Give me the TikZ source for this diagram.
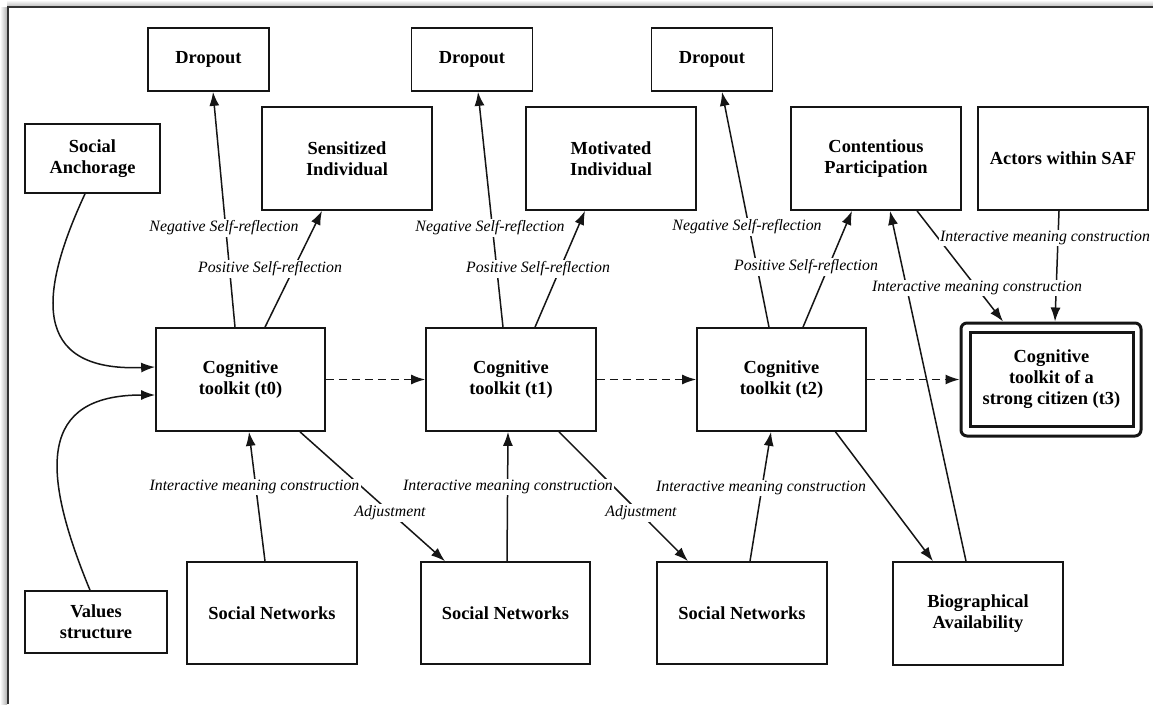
\documentclass[tikz,border=0pt]{standalone}
\usepackage{fontspec}
\setmainfont{Liberation Serif}
\usetikzlibrary{arrows.meta,calc}
\definecolor{ink}{HTML}{151515}
\begin{document}
\begin{tikzpicture}[x=1pt,y=-1pt,
  box/.style={draw=ink, line width=1.7pt, fill=white, align=center,
    font=\bfseries\fontsize{18.4}{21}\selectfont, inner sep=2pt},
  lbl/.style={fill=white, inner sep=1.5pt, font=\itshape\fontsize{15.8}{18}\selectfont},
  link/.style={draw=ink, line width=1.5pt, -{Latex[length=14pt,width=10pt]}},
]
% canvas and page frame with its soft shadow
\fill[white] (0,0) rectangle (1153,704);
\useasboundingbox (0,0) rectangle (1153,704);
\shade[left color=white, right color=black!30] (0,7) rectangle (7,704);
\shade[top color=white, bottom color=black!24] (7,0) rectangle (1153,6);
\draw[black!80, line width=1.8pt] (8,704) -- (8,7) -- (1153,7);

% boxes
\node[box, minimum width=121pt, minimum height=63pt] (drop1) at (208.5,59.5) {Dropout};
\node[box, minimum width=121pt, minimum height=63pt] (drop2) at (472,59.5) {Dropout};
\node[box, minimum width=121pt, minimum height=63pt] (drop3) at (712,59.5) {Dropout};
\node[box, minimum width=135pt, minimum height=69pt] (anch) at (92.5,158.5) {Social\\Anchorage};
\node[box, minimum width=170pt, minimum height=103pt] (sens) at (347,158.5) {Sensitized\\Individual};
\node[box, minimum width=170pt, minimum height=103pt] (motiv) at (611,158.5) {Motivated\\Individual};
\node[box, minimum width=170pt, minimum height=103pt] (cont) at (876,158.5) {Contentious\\Participation};
\node[box, minimum width=170pt, minimum height=103pt] (act) at (1063,158.5) {Actors within SAF};

\node[box, minimum width=169pt, minimum height=103pt] (cog0) at (240.5,379.5) {Cognitive\\toolkit (t0)};
\node[box, minimum width=170pt, minimum height=103pt] (cog1) at (511,379.5) {Cognitive\\toolkit (t1)};
\node[box, minimum width=169pt, minimum height=103pt] (cog2) at (781.5,379.5) {Cognitive\\toolkit (t2)};
\node[draw=ink, line width=3pt, rounded corners=6pt, fill=white,
      minimum width=180pt, minimum height=113pt] (cog3) at (1051,379.5) {};
\node[box, line width=3pt, minimum width=163pt, minimum height=94pt] (cog3in) at (1051.5,379.5)
  {Cognitive\\toolkit of a\\strong citizen (t3)};

\node[box, minimum width=142pt, minimum height=62pt] (vals) at (96,622) {Values\\structure};
\node[box, minimum width=170pt, minimum height=102pt] (sn1) at (272,613) {Social Networks};
\node[box, minimum width=169pt, minimum height=102pt] (sn2) at (505.5,613) {Social Networks};
\node[box, minimum width=170pt, minimum height=102pt] (sn3) at (742,613) {Social Networks};
\node[box, minimum width=170pt, minimum height=103pt] (bio) at (978,613.5) {Biographical\\Availability};

% inputs to the first toolkit
\draw[link] ([xshift=-7.5pt]anch.south) .. controls +(-45,97) and +(-126,5) .. ([yshift=12.5pt]cog0.west);
\draw[link] ([xshift=-6pt]vals.north) .. controls +(-50,-121) and +(-116,0) .. ([yshift=-15.5pt]cog0.west);

% progression of the toolkit
\draw[link, dash pattern=on 8pt off 5pt] (cog0.east) -- (cog1.west);
\draw[link, dash pattern=on 8pt off 5pt] (cog1.east) -- (cog2.west);
\draw[link, dash pattern=on 8pt off 5pt] (cog2.east) -- (cog3.west);

% stage t0
\draw[link] ([xshift=-5.5pt]cog0.north) -- ([xshift=4.5pt]drop1.south);
\draw[link] ([xshift=24.5pt]cog0.north) -- ([xshift=-25pt]sens.south);
\draw[link] ([xshift=-7pt]sn1.north) -- ([xshift=8.5pt]cog0.south);
\draw[link] ([xshift=59.5pt]cog0.south) -- ([xshift=-60.5pt]sn2.north);

% stage t1
\draw[link] ([xshift=-8pt]cog1.north) -- ([xshift=6pt]drop2.south);
\draw[link] ([xshift=24pt]cog1.north) -- ([xshift=-26pt]motiv.south);
\draw[link] ([xshift=1.5pt]sn2.north) -- ([xshift=-3pt]cog1.south);
\draw[link] ([xshift=48pt]cog1.south) -- ([xshift=-54pt]sn3.north);

% stage t2
\draw[link] ([xshift=-12.5pt]cog2.north) -- ([xshift=10pt]drop3.south);
\draw[link] ([xshift=21.5pt]cog2.north) -- ([xshift=-24pt]cont.south);
\draw[link] ([xshift=8pt]sn3.north) -- ([xshift=-10.5pt]cog2.south);
\draw[link] ([xshift=54pt]cog2.south) -- ([xshift=-45pt]bio.north);
\draw[link] ([xshift=-12pt]bio.north) -- ([xshift=14pt]cont.south);

% into the strong citizen
\draw[link] ([xshift=41pt]cont.south) -- ([xshift=-48pt]cog3.north);
\draw[link] ([xshift=-4pt]act.south) -- ([xshift=4pt]cog3.north);

% connector labels
\node[lbl] (lneg0) at (224,228) {Negative Self-reflection};
\node[lbl] (lpos0) at (270,269) {Positive Self-reflection};
\node[lbl] (limc0) at (254.5,487) {Interactive meaning construction};
\node[lbl] (ladj0) at (390,513) {Adjustment};
\node[lbl] (lneg1) at (490,228) {Negative Self-reflection};
\node[lbl] (lpos1) at (538,269) {Positive Self-reflection};
\node[lbl] (limc1) at (508,487) {Interactive meaning construction};
\node[lbl] (ladj1) at (641,513) {Adjustment};
\node[lbl] (lneg2) at (747,227) {Negative Self-reflection};
\node[lbl] (lpos2) at (806,267) {Positive Self-reflection};
\node[lbl] (limc2) at (761,488) {Interactive meaning construction};
\node[lbl] (limc3) at (977,288) {Interactive meaning construction};
\node[lbl] (limc4) at (1045,238) {Interactive meaning construction};
\end{tikzpicture}
\end{document}
